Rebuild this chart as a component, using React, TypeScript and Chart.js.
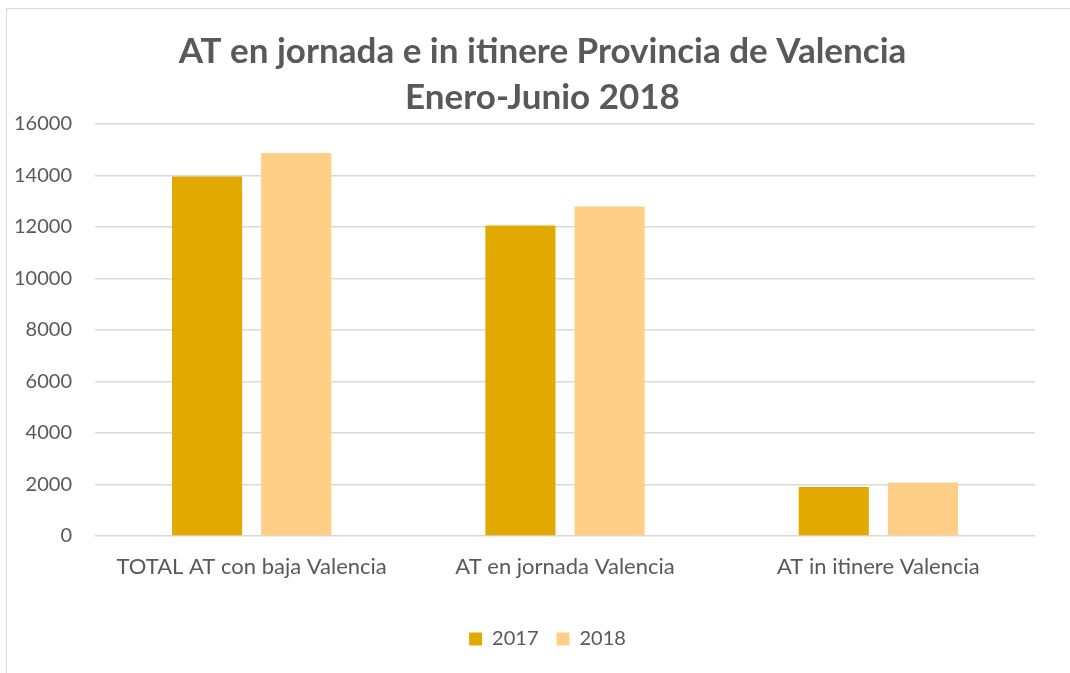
import React, { useEffect, useRef } from "react";
import { Chart, registerables } from "chart.js";

Chart.register(...registerables);

const categories = ["TOTAL AT con baja Valencia", "AT en jornada Valencia", "AT in itinere Valencia"];
const series2017 = [13960, 12060, 1900];
const series2018 = [14870, 12800, 2080];
const seriesLabels = ["2017", "2018"];
const titleLines = ["AT en jornada e in itinere Provincia de Valencia", "Enero-Junio 2018"];

const FONT = "Lato, 'Open Sans', sans-serif";
const TEXT = "#595959";

// The original chart frame is wider than the visible crop, so title and legend sit right of the plot center
const shiftPlugin = {
  id: "shiftBlocks",
  afterLayout(chart: any) {
    if (chart.titleBlock) {
      chart.titleBlock.left += 25;
      chart.titleBlock.right += 25;
    }
    if (chart.legend) {
      chart.legend.left += 30;
      chart.legend.right += 30;
    }
  },
};

export default function App() {
  const ref = useRef<HTMLCanvasElement>(null);
  useEffect(() => {
    document.body.style.margin = "0";
    const ctx = ref.current!;
    const chart = new Chart(ctx, {
      type: "bar",
      data: {
        labels: categories,
        datasets: [
          { label: seriesLabels[0], data: series2017, backgroundColor: "#E2AA00", categoryPercentage: 0.569, barPercentage: 0.787 },
          { label: seriesLabels[1], data: series2018, backgroundColor: "#FFCF87", categoryPercentage: 0.569, barPercentage: 0.787 },
        ],
      },
      plugins: [shiftPlugin],
      options: {
        responsive: false,
        animation: false,
        layout: { padding: { top: 0, left: 0, right: 35, bottom: 14 } },
        plugins: {
          title: {
            display: true,
            text: titleLines,
            color: TEXT,
            font: { family: FONT, size: 35, weight: "bold", lineHeight: 46 / 35 },
            padding: { top: 29, bottom: 3 },
          },
          legend: {
            position: "bottom",
            labels: {
              color: TEXT,
              font: { family: FONT, size: 20 },
              boxWidth: 13,
              boxHeight: 13,
              padding: 18,
            },
          },
          tooltip: { enabled: false },
        },
        scales: {
          x: {
            grid: { display: false, drawTicks: false },
            border: { display: false },
            ticks: { color: TEXT, font: { family: FONT, size: 22 }, padding: 18, maxRotation: 0, autoSkip: false },
            afterFit: (s: any) => { s.height = 75; },
          },
          y: {
            min: 0,
            max: 16000,
            ticks: { stepSize: 2000, color: TEXT, font: { family: FONT, size: 20 }, padding: 23, callback: (v: any) => String(v) },
            grid: { color: "#D9D9D9", lineWidth: 1.5, drawTicks: false },
            border: { display: false },
            afterFit: (s: any) => { s.width = 95; },
          },
        },
      },
    });
    return () => chart.destroy();
  }, []);
  return (
    <div style={{ position: "relative", width: 1070, height: 673, background: "#fff" }}>
      <canvas ref={ref} width={1070} height={673} style={{ position: "absolute", left: 0, top: 0 }} />
      <div style={{ position: "absolute", left: 6, top: 8, width: 1064, height: 665, borderTop: "1.5px solid #D9D9D9", borderLeft: "1.5px solid #D9D9D9", pointerEvents: "none" }} />
    </div>
  );
}
